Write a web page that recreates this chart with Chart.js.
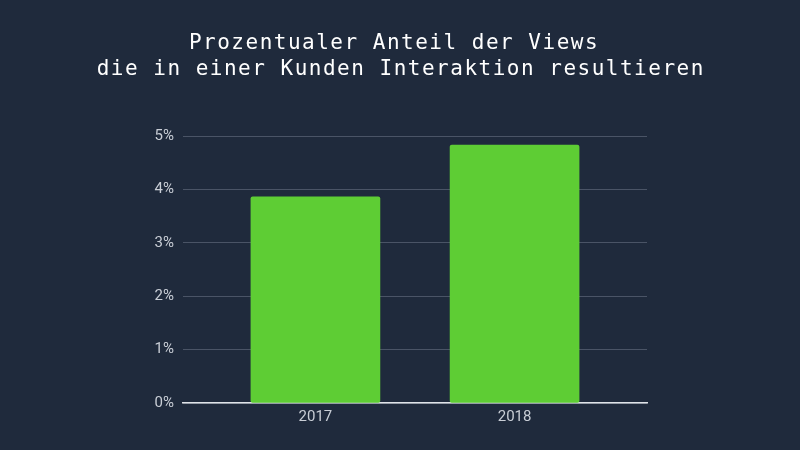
<!DOCTYPE html>
<html>
<head>
<meta charset="utf-8">
<script src="https://cdn.jsdelivr.net/npm/chart.js@4"></script>
<style>
  html, body { margin: 0; padding: 0; background: #1f2a3c; }
  #wrap { width: 800px; height: 450px; }
</style>
</head>
<body>
<div id="wrap"><canvas id="myChart" width="800" height="450"></canvas></div>
<script>
// data
const years = ["2017", "2018"];
const shareValues = [3.86, 4.83];
const yTicks = [0, 1, 2, 3, 4, 5];
const titleLines = ["Prozentualer Anteil der Views", "die in einer Kunden Interaktion resultieren"];

const bgColor = "#1f2a3c";

// bars sit on a linear x axis so the gap round them can be wider than one category
const points = years.map(function (y, i) { return { x: i, y: shareValues[i] }; });

// background + mono title with a bit of letter spacing
const decoPlugin = {
    id: 'deco',
    beforeDraw: function (chart) {
        const ctx = chart.ctx;
        ctx.save();
        ctx.fillStyle = bgColor;
        ctx.fillRect(0, 0, chart.width, chart.height);
        ctx.restore();
    },
    afterDraw: function (chart) {
        const ctx = chart.ctx;
        ctx.save();
        ctx.fillStyle = "#ffffff";
        ctx.font = "21px 'DejaVu Sans Mono', monospace";
        ctx.letterSpacing = "1.5px";
        ctx.textAlign = "center";
        ctx.textBaseline = "alphabetic";
        // first line sits a little left of centre in the original
        ctx.fillText(titleLines[0], chart.width / 2 - 6, 49);
        ctx.fillText(titleLines[1], chart.width / 2 + 0.75, 75);
        ctx.restore();
    }
};

new Chart("myChart", {
    type: "bar",
    data: {
        datasets: [{
            label: "Anteil",
            data: points,
            backgroundColor: "#5ecd34",
            borderRadius: 2,
            borderSkipped: false,
            barThickness: 129
        }]
    },
    options: {
        responsive: false,
        animation: false,
        layout: { padding: { left: 143, right: 153, top: 136, bottom: 0 } },
        plugins: {
            legend: { display: false },
            tooltip: { enabled: false },
            title: { display: false }
        },
        scales: {
            x: {
                type: 'linear',
                min: -0.665,
                max: 1.665,
                offset: false,
                afterBuildTicks: function (scale) {
                    scale.ticks = years.map(function (y, i) { return { value: i }; });
                },
                grid: { display: false, drawTicks: false },
                border: { display: true, color: "#dfe3e8", width: 1.5 },
                ticks: {
                    color: "#c9ced6",
                    font: { family: "Roboto", size: 15 },
                    padding: 5,
                    callback: function (v) { return years[v]; }
                },
                afterFit: function (scale) { scale.height = 47; }
            },
            y: {
                min: 0,
                max: 5,
                afterBuildTicks: function (scale) {
                    scale.ticks = yTicks.map(function (v) { return { value: v }; });
                },
                grid: { color: "#4a5466", drawTicks: false, lineWidth: 1 },
                border: { display: false },
                ticks: {
                    color: "#c9ced6",
                    font: { family: "Roboto", size: 15 },
                    padding: 9,
                    callback: function (v) { return v + "%"; }
                },
                afterFit: function (scale) { scale.width = 40; }
            }
        }
    },
    plugins: [decoPlugin]
});
</script>
</body>
</html>
